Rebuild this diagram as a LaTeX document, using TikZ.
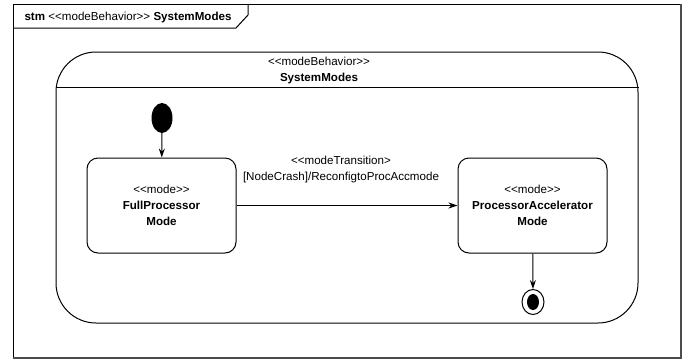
\documentclass[tikz,border=0pt]{standalone}
\usepackage{fontspec}
\setmainfont{Liberation Sans}
\usetikzlibrary{arrows.meta}
\usetikzlibrary{shapes.geometric}
\usetikzlibrary{positioning}

\newcommand{\stereotype}[1]{<\kern0pt<#1>\kern0pt>}

\begin{document}
\begin{tikzpicture}[x=1pt,y=-1pt,
	frameline/.style={line width=1pt},
	shadeline/.style={line width=1.8pt,black!70},
	modebox/.style={draw,line width=1pt,rounded corners=11pt,minimum width=149pt,minimum height=95pt,align=center,font=\fontsize{11.6}{16}\selectfont},
	trans/.style={line width=1pt,-{Stealth[length=9pt,width=6pt]}},
	lbl/.style={font=\fontsize{11.6}{16}\selectfont,align=center}]
	
	\useasboundingbox (0,0) rectangle (683,360);
	
	% frame and tab
	\draw [frameline] (13,358) -- (13,4) -- (681,4);
	\draw [shadeline] (681,4) -- (681,358) -- (13,358);
	\draw [frameline] (13,28) -- (236,28) -- (248,15) -- (248,4);
	\node [lbl,anchor=west] (title) at (21,17) {\textbf{stm} \stereotype{modeBehavior} \textbf{SystemModes}};
	
	% composite state
	\node [draw,line width=1pt,rounded corners=40pt,minimum width=582pt,minimum height=271pt] (sysmodes) at (347,187.5) {};
	\coordinate (hdr) at (0,87);
	\draw [frameline] (sysmodes.west |- hdr) -- (sysmodes.east |- hdr);
	\node [lbl] (sysname) at (319,70) {\stereotype{modeBehavior}\\\textbf{SystemModes}};
	
	% modes
	\node [fill=black,ellipse,minimum width=21pt,minimum height=30pt,inner sep=0pt] (init) at (162,118) {};
	\node [modebox] (full) at (161.5,205.5) {\stereotype{mode}\\\textbf{FullProcessor}\\\textbf{Mode}};
	\node [modebox] (accel) at (532.5,205.5) {\stereotype{mode}\\\textbf{ProcessorAccelerator}\\\textbf{Mode}};
	\node [draw,line width=1pt,ellipse,minimum width=22pt,minimum height=25pt,inner sep=0pt] (final) at (533,302) {};
	\node [fill=black,ellipse,minimum width=12pt,minimum height=16pt,inner sep=0pt] (finaldot) at (final.center) {};
	
	% transitions
	\draw [trans] (init) -- (full);
	\draw [trans] (full) -- (accel);
	\draw [trans] (accel) -- (final);
	\node [lbl] (trlbl) at (341,169) {<\kern0pt<modeTransition>\\{}[NodeCrash]/ReconfigtoProcAccmode};
	
\end{tikzpicture}
\end{document}
